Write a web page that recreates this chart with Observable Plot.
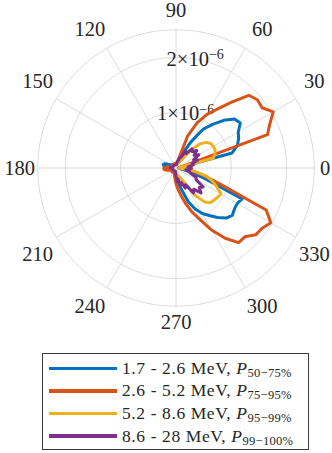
<!DOCTYPE html>
<html><head><meta charset="utf-8">
<script src="https://cdn.jsdelivr.net/npm/d3@7"></script>
<script src="https://cdn.jsdelivr.net/npm/@observablehq/plot@0.6"></script>
<style>
html,body{margin:0;padding:0;background:#fff;}
#chart{position:relative;width:332px;height:453px;overflow:hidden;font-family:"Liberation Serif",serif;color:#262626}
#chart svg{position:absolute;left:0;top:0}
.legend{position:absolute;left:42px;top:353px;width:267px;height:97px;border:1px solid #3a3a3a;box-sizing:border-box;background:#fff;padding-top:3px}
.row{height:22.6px;display:flex;align-items:center}
.sw{width:68px;height:3.5px;margin-left:6px;margin-right:5px;flex:none}
.lab{font-size:17.5px;letter-spacing:0.6px;white-space:nowrap;color:#262626}
.lab sub{font-size:12.5px;letter-spacing:0.3px;vertical-align:-3px;line-height:0}
</style></head><body><div id="chart"></div><script>
// Angles (degrees) at which the distributions are sampled
const angles = [0,5,10,15,20,25,30,35,40,45,50,55,60,65,70,75,80,85,90,95,100,105,110,115,120,125,130,135,140,145,150,155,160,165,170,175,180,185,190,195,200,205,210,215,220,225,230,235,240,245,250,255,260,265,270,275,280,285,290,295,300,305,310,315,320,325,330,335,340,345,350,355];

// Values in units of 1e-6
const blueVals = [0.05,0.05,0.1,1.05,1.18,1.25,1.3,1.42,1.38,1.22,1.03,0.86,0.55,0.3,0.2,0.12,
  0.09,0.08,0.08,0.08,0.08,0.08,0.08,0.08,0.08,0.08,0.08,0.08,0.09,0.1,0.12,0.16,0.22,0.24,0.22,0.18,0.14,0.1,0.08,
  0.08,0.08,0.08,0.08,0.08,0.08,0.08,0.08,0.08,0.08,0.08,0.08,0.08,
  0.09,0.1,0.12,0.2,0.3,0.42,0.65,0.82,0.95,1.05,1.17,1.28,1.33,1.29,1.28,1.32,0.55,0.25,0.1,0.06];
const orangeVals = [0.1,0.08,0.08,0.12,1.76,1.87,2.03,1.9,1.92,1.86,1.55,1.3,1.12,0.9,0.62,0.15,0.1,
  0.08,0.08,0.08,0.08,0.08,0.08,0.08,0.08,0.08,0.08,0.08,0.08,0.08,0.08,0.08,0.08,0.08,
  0.12,0.18,0.22,0.22,0.2,0.15,
  0.1,0.1,0.1,0.1,0.1,0.1,0.1,0.1,0.1,0.1,0.1,0.1,
  0.15,0.2,0.28,0.38,0.5,0.66,0.85,1.03,1.3,1.55,1.76,1.76,1.88,1.9,1.98,1.8,0.85,0.5,0.32,0.2];
const yellowVals = [0.06,0.06,0.1,0.7,0.75,0.78,0.78,0.77,0.72,0.62,0.45,0.2,0.12,0.1,0.08,
  0.06,0.06,0.06,0.06,0.06,0.06,0.06,0.06,0.06,0.06,0.06,0.06,0.06,0.06,0.06,0.06,0.06,0.06,0.06,0.06,
  0.06,0.06,0.06,0.06,0.06,0.06,0.06,0.06,0.06,0.06,0.06,0.06,0.06,0.06,0.06,0.06,0.06,0.06,0.06,
  0.08,0.1,0.12,0.15,0.18,0.2,0.3,0.6,0.8,0.88,0.9,0.92,0.94,0.82,0.7,0.58,0.35,0.1];
const purpleVals = [0.28,0.22,0.32,0.3,0.42,0.35,0.48,0.4,0.49,0.42,0.45,0.32,0.35,0.22,0.2,0.12,0.1,
  0.06,0.06,0.06,0.06,0.06,0.06,0.06,0.06,0.06,0.06,0.06,0.06,0.06,0.06,0.06,0.06,0.06,
  0.08,0.1,0.1,0.08,
  0.06,0.06,0.06,0.06,0.06,0.06,0.06,0.06,0.06,0.06,0.06,0.06,0.06,0.06,0.06,
  0.1,0.15,0.25,0.2,0.32,0.28,0.4,0.35,0.55,0.5,0.64,0.55,0.6,0.42,0.4,0.28,0.25,0.18,0.25];

const seriesNames = ["1.7 - 2.6 MeV", "2.6 - 5.2 MeV", "5.2 - 8.6 MeV", "8.6 - 28 MeV"];
const percentileLabels = ["50\u221275%", "75\u221295%", "95\u221299%", "99\u2212100%"];
const colors = ["#0072BD", "#D95319", "#EDB120", "#7E2F8E"];

const angleTicks = [0,30,60,90,120,150,180,210,240,270,300,330];
const rTicks = [1, 2];
const rTickLabels = ["1\u00d710", "2\u00d710"];
const rTickExponent = "\u22126";
const rMax = 2.5;

// Layout
const W = 332, H = 348;
const cx = 175.5, cy = 167.5, px = 55.3; // centre and pixels per 1e-6
const rad = a => a * Math.PI / 180;
const X = (r, a) => r * Math.cos(rad(a));
const Y = (r, a) => r * Math.sin(rad(a));

const allVals = [blueVals, orangeVals, yellowVals, purpleVals];
const rows = allVals.flatMap((vals, s) => vals.map((r, i) => ({series: seriesNames[s], theta: angles[i], r})));

const ringPts = [...rTicks, rMax].flatMap(r => d3.range(0, 361, 2).map(a => ({r, a})));

// angular tick label placement (pixels converted to data units)
const labR = a => (a === 270 ? 154 : a === 90 ? 158 : 163) / px;
const labA = a => a + 2.2 * Math.sin(rad(4 * a));
const labelFont = 20.5;

const svg = Plot.plot({
  width: W, height: H,
  margin: 0,
  x: {domain: [-cx / px, (W - cx) / px], axis: null},
  y: {domain: [-(H - cy) / px, cy / px], axis: null},
  color: {domain: seriesNames, range: colors},
  style: {fontFamily: "'Liberation Serif', serif", background: "#fff", color: "#262626", overflow: "visible"},
  marks: [
    Plot.line(ringPts, {x: d => X(d.r, d.a), y: d => Y(d.r, d.a), z: "r", stroke: "#dcdcdc", strokeWidth: 1}),
    Plot.link(angleTicks, {x1: () => 0, y1: () => 0, x2: a => X(rMax, a), y2: a => Y(rMax, a), stroke: "#dcdcdc", strokeWidth: 1}),
    Plot.text(angleTicks.filter(a => a === 0), {x: a => X(144 / px, a), y: a => Y(144 / px, a), text: a => String(a), textAnchor: "start", fontSize: labelFont, fill: "#262626"}),
    Plot.text(angleTicks.filter(a => a === 180), {x: a => X(141 / px, a), y: a => Y(141 / px, a), text: a => String(a), textAnchor: "end", fontSize: labelFont, fill: "#262626"}),
    Plot.text(angleTicks.filter(a => a !== 0 && a !== 180), {x: a => X(labR(a), labA(a)), y: a => Y(labR(a), labA(a)), text: a => String(a), textAnchor: "middle", fontSize: labelFont, fill: "#262626"}),
    Plot.text(rTicks, {x: r => X(r, 80), y: r => Y(r, 80), text: (r, i) => rTickLabels[i], textAnchor: "middle", fontSize: labelFont, fill: "#262626"}),
    Plot.line(rows, {x: d => X(d.r, d.theta), y: d => Y(d.r, d.theta), z: "series", stroke: "series", curve: "linear-closed", strokeWidth: 3, strokeLinejoin: "round"})
  ]
});

// Superscript exponent on radial tick labels
svg.querySelectorAll("text").forEach(t => {
  if (rTickLabels.includes(t.textContent)) {
    const ts = document.createElementNS("http://www.w3.org/2000/svg", "tspan");
    ts.setAttribute("dy", "-0.45em");
    ts.setAttribute("font-size", "14");
    ts.textContent = rTickExponent;
    t.appendChild(ts);
  }
});

const chart = document.getElementById("chart");
chart.appendChild(svg);

const legend = document.createElement("div");
legend.className = "legend";
seriesNames.forEach((name, i) => {
  const row = document.createElement("div");
  row.className = "row";
  const sw = document.createElement("div");
  sw.className = "sw";
  sw.style.background = colors[i];
  const lab = document.createElement("span");
  lab.className = "lab";
  lab.append(name + ", ");
  const p = document.createElement("i");
  p.textContent = "P";
  const sub = document.createElement("sub");
  sub.textContent = percentileLabels[i];
  lab.append(p, sub);
  row.append(sw, lab);
  legend.appendChild(row);
});
chart.appendChild(legend);
</script></body></html>
